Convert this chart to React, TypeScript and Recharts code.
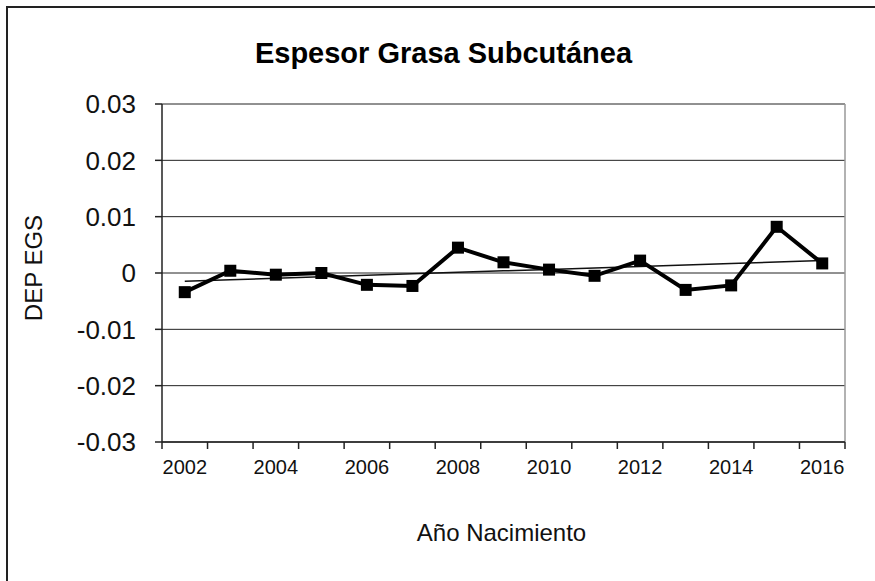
import { LineChart, Line, XAxis, YAxis, CartesianGrid, ReferenceLine } from "recharts";

const YEARS = [2002, 2003, 2004, 2005, 2006, 2007, 2008, 2009, 2010, 2011, 2012, 2013, 2014, 2015, 2016];
const DEP_EGS = [-0.0034, 0.0004, -0.0003, 0.0, -0.0021, -0.0023, 0.0045, 0.0019, 0.0006, -0.0005, 0.0022, -0.003, -0.0022, 0.0082, 0.0017];
const Y_TICKS = [-0.03, -0.02, -0.01, 0, 0.01, 0.02, 0.03];
const X_LABELS = [2002, 2004, 2006, 2008, 2010, 2012, 2014, 2016];

// linear trend (least squares), like the Excel trendline
const n = DEP_EGS.length;
const meanX = (n - 1) / 2;
const meanY = DEP_EGS.reduce((a, b) => a + b, 0) / n;
let sxy = 0;
let sxx = 0;
DEP_EGS.forEach((v, i) => {
  sxy += (i - meanX) * (v - meanY);
  sxx += (i - meanX) * (i - meanX);
});
const slope = sxy / sxx;

const data = YEARS.map((year, i) => ({
  year,
  dep: DEP_EGS[i],
  trend: meanY + slope * (i - meanX),
}));

const W = 875;
const H = 581;
const PLOT_LEFT = 162;
const PLOT_RIGHT = 845;
const HALF_BAND = (PLOT_RIGHT - PLOT_LEFT) / YEARS.length / 2;
const FONT = "'Liberation Sans', Arial, sans-serif";

const XTick = (props: any) => {
  const { x, y, payload, index } = props;
  const isLast = index === YEARS.length - 1;
  return (
    <g>
      <line x1={x - HALF_BAND} y1={y} x2={x - HALF_BAND} y2={y + 7} stroke="#222" strokeWidth={1.5} />
      {isLast && <line x1={x + HALF_BAND} y1={y} x2={x + HALF_BAND} y2={y + 7} stroke="#222" strokeWidth={1.5} />}
      {X_LABELS.includes(payload.value) && (
        <text x={x} y={y + 32} textAnchor="middle" fontSize={20} fontFamily={FONT} fill="#111">
          {payload.value}
        </text>
      )}
    </g>
  );
};

const SquareDot = (props: any) => {
  const { cx, cy } = props;
  if (cx == null || cy == null) return null;
  return <rect x={cx - 6} y={cy - 6} width={12} height={12} fill="#000" />;
};

export default function App() {
  return (
    <div style={{ position: "absolute", left: 0, top: 0, width: W, height: H, background: "#fff", overflow: "hidden" }}>
      <div
        style={{
          position: "absolute",
          left: 6,
          top: 6,
          width: W,
          height: H,
          borderTop: "2px solid #222",
          borderLeft: "2px solid #222",
        }}
      />
      <div
        style={{
          position: "absolute",
          left: 0,
          width: 887,
          top: 39,
          textAlign: "center",
          fontFamily: FONT,
          fontWeight: "bold",
          fontSize: 29,
          lineHeight: "29px",
          color: "#000",
        }}
      >
        Espesor Grasa Subcutánea
      </div>
      <div
        style={{
          position: "absolute",
          left: 34 - 100,
          width: 200,
          top: 268 - 12,
          lineHeight: "24px",
          textAlign: "center",
          fontFamily: FONT,
          fontSize: 24,
          color: "#111",
          transform: "rotate(-90deg)",
          transformOrigin: "center",
        }}
      >
        DEP EGS
      </div>
      <div
        style={{
          position: "absolute",
          left: 0,
          width: 1003,
          top: 521,
          lineHeight: "24px",
          textAlign: "center",
          fontFamily: FONT,
          fontSize: 24,
          color: "#111",
        }}
      >
        Año Nacimiento
      </div>
      <div style={{ position: "absolute", left: 0, top: 0 }}>
        <LineChart width={W} height={H} data={data} margin={{ top: 104, right: W - PLOT_RIGHT, bottom: 109, left: 0 }}>
          <CartesianGrid vertical={false} stroke="#222" strokeWidth={1} />
          <XAxis
            dataKey="year"
            type="number"
            domain={[2001.5, 2016.5]}
            ticks={YEARS}
            interval={0}
            height={30}
            tickSize={0}
            tickMargin={0}
            tickLine={false}
            axisLine={{ stroke: "#222", strokeWidth: 1.5 }}
            tick={<XTick />}
          />
          <YAxis
            width={PLOT_LEFT}
            domain={[-0.03, 0.03]}
            ticks={Y_TICKS}
            interval={0}
            tickSize={7}
            tickMargin={19}
            tickFormatter={(v: number) => String(Number(v.toFixed(2)))}
            tick={{ fontSize: 26, fontFamily: FONT, fill: "#111" }}
            tickLine={{ stroke: "#222", strokeWidth: 1.5 }}
            axisLine={{ stroke: "#222", strokeWidth: 1.5 }}
          />
          <ReferenceLine x={2016.5} stroke="#999" strokeWidth={1.5} />
          <Line
            dataKey="trend"
            stroke="#111"
            strokeWidth={1.5}
            dot={false}
            activeDot={false}
            isAnimationActive={false}
          />
          <Line
            dataKey="dep"
            stroke="#000"
            strokeWidth={4}
            dot={<SquareDot />}
            activeDot={false}
            isAnimationActive={false}
          />
        </LineChart>
      </div>
    </div>
  );
}
